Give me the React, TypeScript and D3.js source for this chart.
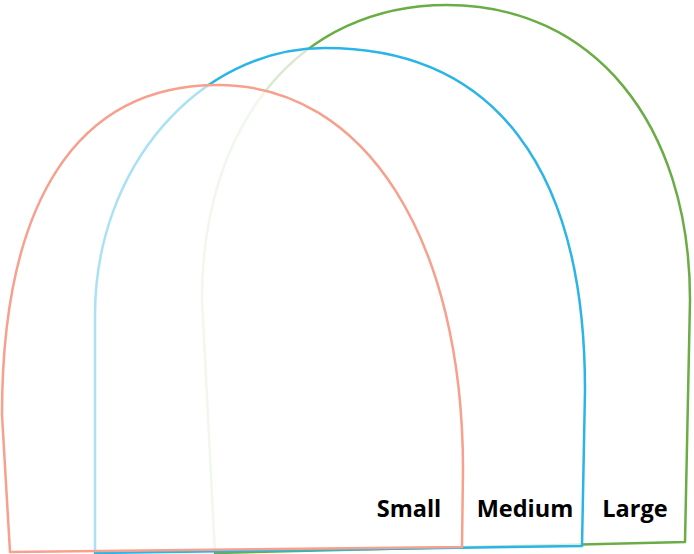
import React from "react";
import * as d3 from "d3";

const W = 694;
const H = 554;

const categories = ["Small", "Medium", "Large"];
const colors = ["#f7a08d", "#2bb5e6", "#6aad45"];
const fillOpacity = [0.6, 0.75, 0];

// shape outline values (x in chart units, h = height above baseline)
const baseLeftX = [10, 95, 215];
const baseLeftH = [1, 0, 0];
const shoulderLeftX = [2, 95, 202];
const shoulderLeftH = [138, 238, 253];
const peakX = [218, 325, 447];
const peakH = [468, 505, 548];
const shoulderRightX = [463, 585, 690];
const shoulderRightH = [83, 163, 253];
const baseRightX = [462, 582, 685];
const baseRightH = [6, 7, 11];
const roundLeft = [0.65, 0.55, 0.6];
const roundRight = [0.6, 0.65, 0.6];
const labelOffset = [54, 60, 55];

export default function App() {
  const x = d3.scaleLinear().domain([0, W]).range([0, W]);
  const y = d3.scaleLinear().domain([0, 553]).range([553, 0]);

  const shapes = categories.map((c, i) => {
    const p = d3.path();
    const lx = shoulderLeftX[i], lh = shoulderLeftH[i];
    const tx = peakX[i], th = peakH[i];
    const rx = shoulderRightX[i], rh = shoulderRightH[i];
    const kl = roundLeft[i], kr = roundRight[i];
    p.moveTo(x(baseLeftX[i]), y(baseLeftH[i]));
    p.lineTo(x(lx), y(lh));
    p.bezierCurveTo(
      x(lx), y(lh + kl * (th - lh)),
      x(tx - kl * (tx - lx)), y(th),
      x(tx), y(th)
    );
    p.bezierCurveTo(
      x(tx + kr * (rx - tx)), y(th),
      x(rx), y(rh + kr * (th - rh)),
      x(rx), y(rh)
    );
    p.lineTo(x(baseRightX[i]), y(baseRightH[i]));
    p.closePath();
    return { c, i, d: p.toString() };
  });

  const order = [2, 1, 0];

  return (
    <svg
      width={W}
      height={H}
      style={{ position: "absolute", left: 0, top: 0, background: "#fff" }}
    >
      {order.map((i) => (
        <path
          key={categories[i]}
          d={shapes[i].d}
          fill="#ffffff"
          fillOpacity={fillOpacity[i]}
          stroke={colors[i]}
          strokeWidth={2.5}
          strokeLinejoin="round"
        />
      ))}
      {categories.map((c, i) => (
        <text
          key={"t" + c}
          x={x(shoulderRightX[i] - labelOffset[i])}
          y={y(36)}
          textAnchor="middle"
          fontFamily="'Open Sans', sans-serif"
          fontWeight={700}
          fontSize={23.5}
          fill="#000"
        >
          {c}
        </text>
      ))}
    </svg>
  );
}
